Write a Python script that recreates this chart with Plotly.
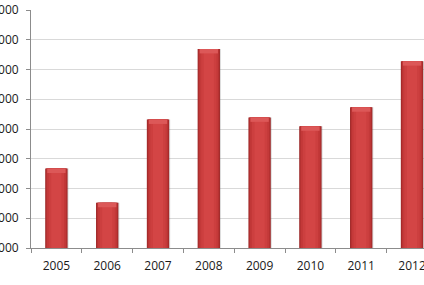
import plotly.graph_objects as go

years = ["2005", "2006", "2007", "2008", "2009", "2010", "2011", "2012"]
values = [36700, 25200, 53200, 76900, 53900, 50900, 57300, 72800]
y_ticks = [10000, 20000, 30000, 40000, 50000, 60000, 70000, 80000, 90000]
y_tick_labels = ["10000", "20000", "30000", "40000", "50000", "60000", "70000", "80000", "90000"]

# layered bars to imitate the shaded cylinder look
layers = [
    (0.44, "#9c2828"),
    (0.41, "#b53131"),
    (0.37, "#c33939"),
    (0.30, "#cc3f3f"),
    (0.20, "#d34545"),
]

fig = go.Figure()
# faint shadow to the right
fig.add_trace(go.Bar(
    x=years, y=values, width=0.44, offset=-0.2,
    marker=dict(color="rgba(120,120,120,0.25)", line=dict(width=0)),
    hoverinfo="skip", showlegend=False,
))
for w, c in layers:
    fig.add_trace(go.Bar(
        x=years, y=values, width=w,
        marker=dict(color=c, line=dict(width=0)),
        hoverinfo="skip", showlegend=False,
    ))
# light bevel at the top of each bar
bevel = 1500
fig.add_trace(go.Bar(
    x=years, y=[bevel] * len(values), base=[v - bevel for v in values], width=0.36,
    marker=dict(color="#dc5858", line=dict(width=0)),
    hoverinfo="skip", showlegend=False,
))

fig.update_layout(
    width=424, height=285,
    margin=dict(l=31, r=0, t=10, b=37, autoexpand=False),
    paper_bgcolor="white", plot_bgcolor="white",
    barmode="overlay",
    font=dict(family="Open Sans, Liberation Sans, Arial, sans-serif", size=12, color="#1a1a1a"),
    showlegend=False,
)
fig.update_xaxes(
    type="category", range=[-0.5, 7.236],
    showline=True, linecolor="#8c8c8c", linewidth=1,
    ticks="outside", ticklen=4, tickcolor="#8c8c8c", tickson="boundaries",
    ticklabelstandoff=7,
    showgrid=False, automargin=False,
)
fig.update_yaxes(
    range=[10000, 90000], tickvals=y_ticks, ticktext=y_tick_labels,
    showline=True, linecolor="#8c8c8c", linewidth=1,
    ticks="outside", ticklen=4, tickcolor="#8c8c8c",
    ticklabelstandoff=5,
    showgrid=True, gridcolor="#d9d9d9", gridwidth=1,
    zeroline=False, automargin=False,
)

fig.write_html("out.html")
